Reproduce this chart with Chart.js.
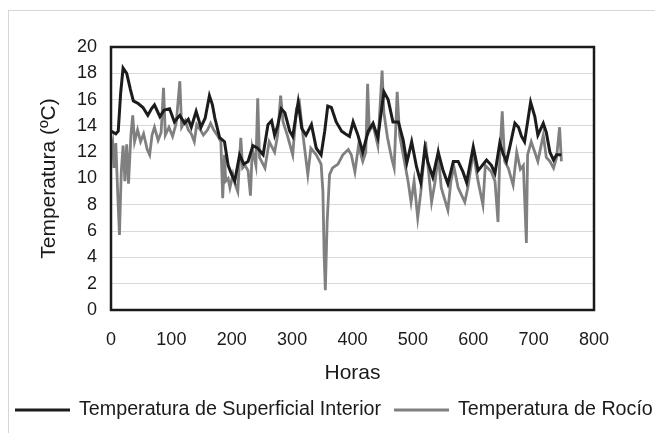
<!DOCTYPE html>
<html>
<head>
<meta charset="utf-8">
<script src="https://cdn.jsdelivr.net/npm/chart.js@4.4.1/dist/chart.umd.min.js"></script>
<style>
  html, body { margin: 0; padding: 0; background: #fff; }
  #wrap { width: 655px; height: 433px; position: relative; }
</style>
</head>
<body>
<div id="wrap"><canvas id="tempChart" width="655" height="433"></canvas></div>
<script>
// ---- data ----
const hoursSup = [0, 8, 12, 16, 20, 26, 32, 37, 45, 53, 61, 67, 72, 78, 81, 88, 97, 105, 110, 114,
  122, 128, 133, 141, 149, 156, 163, 168, 172, 180, 188, 194, 200, 205, 213, 220, 227, 235, 243, 252,
  260, 266, 271, 276, 282, 288, 296, 301, 310, 316, 323, 332, 340, 348, 354, 359, 365, 373, 382, 388,
  395, 401, 409, 417, 426, 434, 442, 452, 459, 467, 476, 484, 490, 498, 506, 513, 520, 525, 533, 542,
  550, 558, 567, 575, 583, 589, 600, 608, 615, 622, 630, 636, 644, 650, 655, 661, 669, 675, 680, 685,
  695, 702, 707, 716, 721, 727, 733, 738, 746];
const tempSup = [13.6, 13.4, 13.6, 16.5, 18.4, 18.0, 16.8, 15.9, 15.7, 15.4, 14.8, 15.3, 15.6, 15.0, 14.7, 15.2, 15.3, 14.3, 14.6, 14.8,
  14.2, 14.5, 13.9, 15.1, 13.9, 14.6, 16.3, 15.6, 14.6, 13.1, 12.8, 11.0, 10.3, 9.8, 11.8, 11.1, 11.3, 12.5, 12.3, 11.8,
  14.1, 14.4, 13.3, 14.0, 15.3, 15.0, 13.6, 13.2, 15.8, 13.8, 13.3, 14.1, 12.3, 11.8, 13.6, 15.5, 15.4, 14.3, 13.6, 13.4,
  13.2, 14.3, 13.3, 12.0, 13.6, 14.2, 13.1, 16.6, 16.0, 14.3, 14.3, 12.9, 11.2, 12.8, 10.9, 9.7, 12.3, 11.2, 10.1, 12.0,
  10.6, 9.6, 11.3, 11.3, 10.5, 9.7, 12.4, 10.6, 11.0, 11.4, 11.0, 10.4, 12.7, 11.8, 11.3, 12.5, 14.2, 13.9, 13.2, 12.8,
  15.8, 14.7, 13.3, 14.2, 13.5, 12.0, 11.4, 11.8, 11.8];

const hoursRoc = [0, 3, 5, 8, 11, 14, 17, 20, 23, 26, 29, 33, 36, 39, 44, 49, 54, 60, 64, 68,
  72, 78, 83, 87, 90, 96, 102, 108, 114, 117, 123, 128, 133, 138, 142, 148, 153, 160, 165, 170,
  176, 182, 185, 188, 190, 194, 197, 202, 206, 210, 215, 218, 222, 227, 231, 234, 240, 243, 246, 255,
  262, 271, 276, 281, 285, 292, 301, 307, 312, 318, 326, 331, 340, 348, 351, 353, 355, 358, 362, 367,
  376, 384, 393, 398, 404, 410, 417, 422, 425, 428, 434, 442, 449, 452, 458, 465, 469, 474, 478, 484,
  492, 497, 502, 508, 513, 521, 526, 531, 537, 542, 547, 558, 563, 568, 575, 586, 591, 600, 608, 616,
  620, 630, 636, 641, 644, 648, 652, 658, 666, 672, 678, 683, 688, 690, 696, 702, 707, 716, 721, 727,
  733, 738, 743, 746];
const tempRoc = [11.8, 12.6, 10.8, 12.7, 9.0, 5.7, 10.5, 12.5, 9.8, 12.6, 9.6, 13.3, 14.8, 12.8, 13.7, 12.8, 13.4, 12.2, 11.8, 13.3,
  13.9, 12.9, 13.5, 16.9, 13.3, 13.9, 13.2, 14.2, 17.4, 13.9, 14.4, 13.7, 13.4, 12.8, 14.1, 13.7, 13.3, 13.7, 14.2, 13.7,
  13.3, 12.8, 8.5, 11.8, 9.8, 10.0, 9.3, 10.3, 9.5, 9.0, 13.1, 10.8, 11.0, 10.6, 8.7, 12.3, 11.0, 16.1, 11.6, 10.8,
  12.8, 12.0, 13.3, 16.3, 14.3, 13.3, 11.8, 15.3, 15.8, 13.3, 10.3, 12.3, 11.8, 11.1, 9.0, 4.2, 1.5, 6.7, 10.3, 10.8,
  11.1, 11.8, 12.2, 11.8, 10.5, 12.5, 11.3, 12.0, 17.2, 13.6, 14.1, 12.5, 18.2, 15.0, 13.1, 11.5, 10.8, 16.6, 13.3, 11.8,
  9.8, 8.2, 9.8, 7.0, 8.9, 12.8, 10.5, 8.2, 9.8, 11.8, 9.3, 7.6, 9.8, 10.9, 9.3, 8.2, 9.3, 12.0, 9.8, 8.0,
  11.0, 10.5, 9.8, 6.7, 11.8, 15.1, 11.3, 10.8, 9.5, 12.0, 10.7, 11.0, 5.1, 11.8, 12.8, 12.0, 11.3, 13.3, 11.6, 11.3,
  10.8, 11.6, 13.9, 11.3];

const xTicks = [0, 100, 200, 300, 400, 500, 600, 700, 800];
const yTicks = [0, 2, 4, 6, 8, 10, 12, 14, 16, 18, 20];

const seriesNames = ['Temperatura de Superficial Interior', 'Temperatura de Rocío'];
const seriesColors = ['#1c1c1c', '#808080'];

// ---- helpers ----
const toPoints = (xs, ys) => xs.map((x, i) => ({ x: x, y: ys[i] }));
const FONT = "'Liberation Sans', Arial, sans-serif";

// frame around the plot + faint outer border
const framePlugin = {
    id: 'frame',
    beforeDraw(chart) {
        const c = chart.ctx;
        c.save();
        c.strokeStyle = '#d6d6d6';
        c.lineWidth = 1;
        c.strokeRect(8.5, 10.5, 700, 500);
        c.restore();
    },
    afterDatasetsDraw(chart) {
        const a = chart.chartArea;
        const c = chart.ctx;
        c.save();
        c.strokeStyle = '#1a1a1a';
        c.lineWidth = 2.5;
        c.strokeRect(a.left, a.top, a.right - a.left, a.bottom - a.top);
        c.restore();
    }
};

// legend drawn as line samples at the bottom
const lineLegend = {
    id: 'lineLegend',
    afterDraw(chart) {
        const c = chart.ctx;
        const y = 410;
        let x = 15;
        c.save();
        c.font = '19.7px ' + FONT;
        c.textBaseline = 'middle';
        chart.data.datasets.forEach(ds => {
            c.strokeStyle = ds.borderColor;
            c.lineWidth = 3;
            c.beginPath();
            c.moveTo(x, y);
            c.lineTo(x + 55, y);
            c.stroke();
            c.fillStyle = '#1a1a1a';
            c.fillText(ds.label, x + 64, y);
            x += 64 + c.measureText(ds.label).width + 13;
        });
        c.restore();
    }
};

const ctx = document.getElementById('tempChart');

new Chart(ctx, {
    type: 'line',
    data: {
        datasets: [
            {
                label: seriesNames[0],
                data: toPoints(hoursSup, tempSup),
                borderColor: seriesColors[0],
                backgroundColor: seriesColors[0],
                borderWidth: 3,
                pointRadius: 0,
                tension: 0
            },
            {
                label: seriesNames[1],
                data: toPoints(hoursRoc, tempRoc),
                borderColor: seriesColors[1],
                backgroundColor: seriesColors[1],
                borderWidth: 2.8,
                pointRadius: 0,
                tension: 0
            }
        ]
    },
    options: {
        responsive: false,
        animation: false,
        layout: { padding: { left: 0, top: 47, right: 61, bottom: 0 } },
        plugins: {
            legend: { display: false },
            tooltip: { enabled: false }
        },
        scales: {
            x: {
                type: 'linear',
                min: 0,
                max: 800,
                afterFit(scale) { scale.height = 123; },
                afterBuildTicks(scale) { scale.ticks = xTicks.map(v => ({ value: v })); },
                grid: { display: false, drawTicks: false },
                border: { display: false },
                ticks: {
                    padding: 19,
                    color: '#1a1a1a',
                    font: { family: FONT, size: 18 },
                    maxRotation: 0
                },
                title: {
                    display: true,
                    text: 'Horas',
                    color: '#1a1a1a',
                    font: { family: FONT, size: 21 },
                    padding: { top: 0, bottom: 47 }
                }
            },
            y: {
                min: 0,
                max: 20,
                afterFit(scale) { scale.width = 111; },
                afterBuildTicks(scale) { scale.ticks = yTicks.map(v => ({ value: v })); },
                grid: { color: '#d9d9d9', lineWidth: 1, drawTicks: false },
                border: { display: false },
                ticks: {
                    padding: 14,
                    color: '#1a1a1a',
                    font: { family: FONT, size: 18 }
                },
                title: {
                    display: true,
                    text: 'Temperatura (ºC)',
                    color: '#1a1a1a',
                    font: { family: FONT, size: 21 },
                    padding: { top: 37, bottom: 0 }
                }
            }
        }
    },
    plugins: [framePlugin, lineLegend]
});
</script>
</body>
</html>
